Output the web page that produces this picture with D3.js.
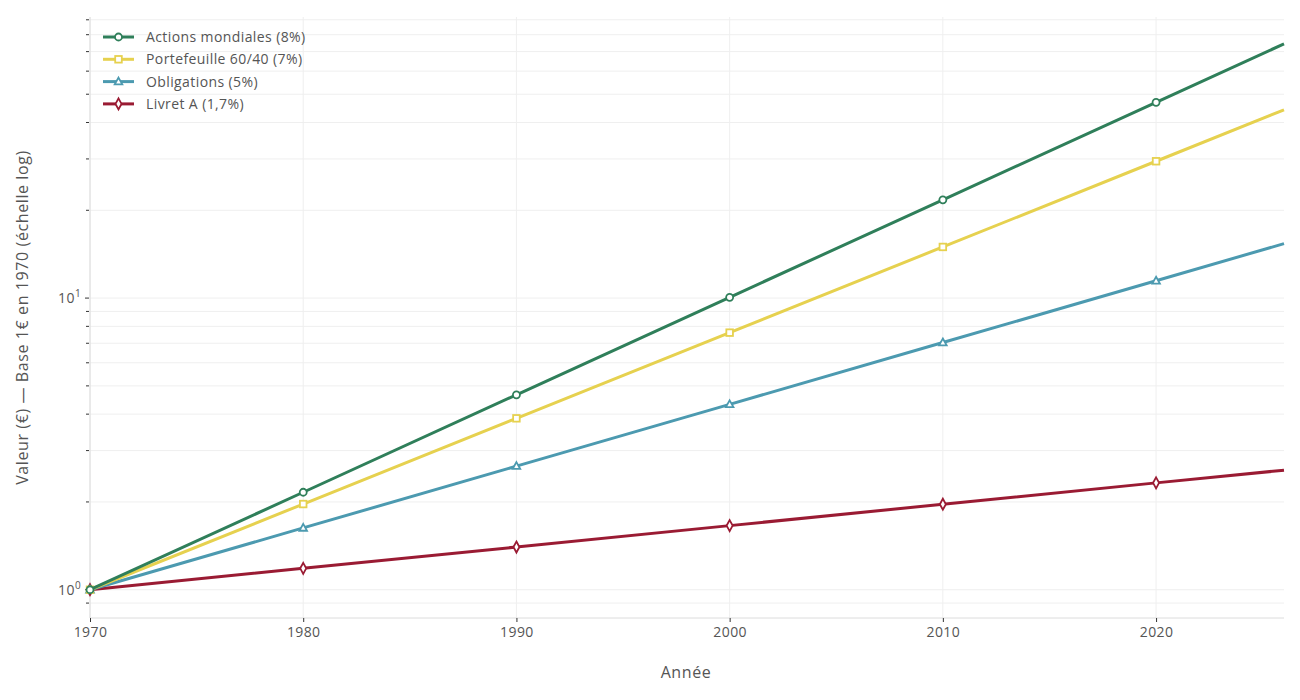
<!DOCTYPE html>
<html>
<head>
<meta charset="utf-8">
<script src="https://cdn.jsdelivr.net/npm/d3@7"></script>
<style>
  html, body { margin: 0; padding: 0; background: #fff; }
  svg { display: block; font-family: "Open Sans", Lato, sans-serif; }
</style>
</head>
<body>
<svg id="chart" width="1300" height="700"></svg>
<script>
// ---- Data ----
const years = [1970, 1980, 1990, 2000, 2010, 2020, 2026];
const actions = [1, 2.159, 4.661, 10.063, 21.725, 46.902, 74.43];
const portefeuille = [1, 1.967, 3.870, 7.612, 14.974, 29.457, 44.21];
const obligations = [1, 1.629, 2.653, 4.322, 7.040, 11.467, 15.37];
const livretA = [1, 1.184, 1.401, 1.659, 1.964, 2.325, 2.57];
const seriesNames = ["Actions mondiales (8%)", "Portefeuille 60/40 (7%)", "Obligations (5%)", "Livret A (1,7%)"];
const xTicks = [1970, 1980, 1990, 2000, 2010, 2020];
const yMajor = [1, 10];
const yMinor = [0.9, 2, 3, 4, 5, 6, 7, 8, 9, 20, 30, 40, 50, 60, 70, 80, 90];

const seriesValues = [actions, portefeuille, obligations, livretA];
const colors = ["#2f7f5a", "#e6d14f", "#4c9ab0", "#9a1b33"];
const shapes = ["circle", "square", "triangle", "diamond"];

const svg = d3.select("#chart");
const M = { left: 90, right: 1284, top: 17, bottom: 618 };

const x = d3.scaleLinear().domain([1970, 2026]).range([M.left, M.right]);
const y = d3.scaleLog().domain([0.8, 92]).range([M.bottom, M.top]);

const textColor = "#555";
const FONT = "'Open Sans', Lato, sans-serif";

// Grid
const grid = svg.append("g");
grid.selectAll("line.h").data(yMajor.concat(yMinor)).join("line")
  .attr("x1", M.left).attr("x2", M.right)
  .attr("y1", d => y(d)).attr("y2", d => y(d))
  .attr("stroke", "#efefef").attr("stroke-width", 1);
grid.selectAll("line.v").data(xTicks).join("line")
  .attr("x1", d => x(d)).attr("x2", d => x(d))
  .attr("y1", M.top).attr("y2", M.bottom)
  .attr("stroke", "#efefef").attr("stroke-width", 1);

// Axes lines
svg.append("line").attr("x1", M.left).attr("x2", M.left).attr("y1", M.top).attr("y2", M.bottom)
  .attr("stroke", "#dcdcdc");
svg.append("line").attr("x1", M.left).attr("x2", M.right).attr("y1", M.bottom).attr("y2", M.bottom)
  .attr("stroke", "#dcdcdc");

// Y ticks
svg.append("g").selectAll("line").data(yMinor).join("line")
  .attr("x1", M.left - 4).attr("x2", M.left - 1)
  .attr("y1", d => y(d)).attr("y2", d => y(d))
  .attr("stroke", "#333");
svg.append("g").selectAll("line").data(yMajor).join("line")
  .attr("x1", M.left - 5).attr("x2", M.left - 1)
  .attr("y1", d => y(d)).attr("y2", d => y(d))
  .attr("stroke", "#333");
const yl = svg.append("g").selectAll("text").data(yMajor).join("text")
  .attr("x", M.left - 9).attr("y", d => y(d) + 5)
  .attr("text-anchor", "end").attr("fill", textColor).attr("font-size", 14)
  .attr("letter-spacing", 0.4);
yl.append("tspan").text("10");
yl.append("tspan").attr("dy", -6).attr("font-size", 10).text(d => Math.round(Math.log10(d)));

// X axis ticks
const xAxis = d3.axisBottom(x).tickValues(xTicks).tickFormat(d3.format("d")).tickSize(4).tickPadding(5);
const gx = svg.append("g").attr("transform", `translate(0,${M.bottom})`).call(xAxis);
gx.select(".domain").remove();
gx.selectAll(".tick line").attr("stroke", "#333");
gx.selectAll(".tick text").attr("fill", textColor).attr("font-size", 14).attr("font-family", FONT)
  .attr("letter-spacing", 0.4);

// Axis titles
svg.append("text").attr("x", (M.left + M.right) / 2 - 1).attr("y", 678)
  .attr("text-anchor", "middle").attr("fill", textColor).attr("font-size", 16)
  .attr("letter-spacing", 0.6).text("Année");
svg.append("text").attr("transform", `translate(28,${(M.top + M.bottom) / 2}) rotate(-90)`)
  .attr("text-anchor", "middle").attr("fill", textColor).attr("font-size", 16)
  .attr("letter-spacing", 0.6)
  .text("Valeur (€) — Base 1€ en 1970 (échelle log)");

// Marker drawing
function drawMarker(g, shape, color, cx, cy) {
  if (shape === "circle") {
    g.append("circle").attr("cx", cx).attr("cy", cy).attr("r", 3.5)
      .attr("fill", "#fff").attr("stroke", color).attr("stroke-width", 1.8);
  } else if (shape === "square") {
    g.append("rect").attr("x", cx - 3.3).attr("y", cy - 3.3).attr("width", 6.6).attr("height", 6.6)
      .attr("fill", "#fff").attr("stroke", color).attr("stroke-width", 1.8);
  } else if (shape === "triangle") {
    g.append("path").attr("d", `M${cx},${cy - 4}L${cx + 3.8},${cy + 2.8}L${cx - 3.8},${cy + 2.8}Z`)
      .attr("fill", "#fff").attr("stroke", color).attr("stroke-width", 1.8);
  } else {
    g.append("path").attr("d", `M${cx},${cy - 5.5}L${cx + 3},${cy}L${cx},${cy + 5.5}L${cx - 3},${cy}Z`)
      .attr("fill", "#fff").attr("stroke", color).attr("stroke-width", 1.8);
  }
}

const line = d3.line().x(d => x(d[0])).y(d => y(d[1]));

// Draw series (bottom first so green on top)
for (let i = seriesValues.length - 1; i >= 0; i--) {
  const pts = years.map((yr, j) => [yr, seriesValues[i][j]]);
  const g = svg.append("g");
  g.append("path").datum(pts).attr("d", line)
    .attr("fill", "none").attr("stroke", colors[i]).attr("stroke-width", 3)
    .attr("stroke-linejoin", "round");
  pts.filter(p => p[0] % 10 === 0).forEach(p => drawMarker(g, shapes[i], colors[i], x(p[0]), y(p[1])));
}

// Legend
const lg = svg.append("g");
seriesNames.forEach((name, i) => {
  const ly = 37 + i * 22.3;
  lg.append("line").attr("x1", 103).attr("x2", 134).attr("y1", ly).attr("y2", ly)
    .attr("stroke", colors[i]).attr("stroke-width", 3);
  drawMarker(lg, shapes[i], colors[i], 118.5, ly);
  lg.append("text").attr("x", 146).attr("y", ly + 5).attr("fill", textColor).attr("font-size", 14)
    .attr("letter-spacing", 0.4).text(name);
});
</script>
</body>
</html>
